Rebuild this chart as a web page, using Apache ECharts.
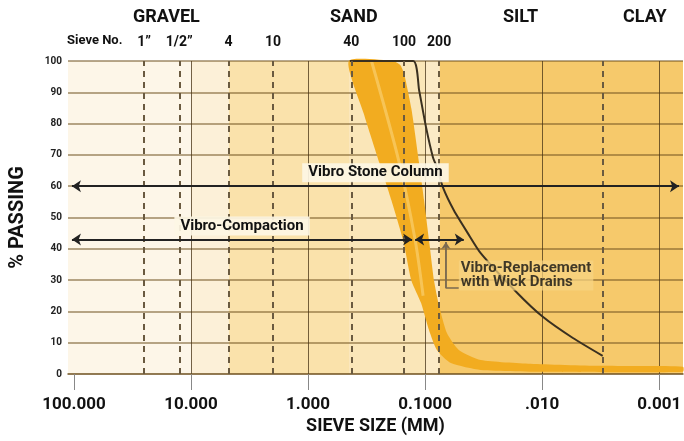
<!DOCTYPE html>
<html>
<head>
<meta charset="utf-8">
<script src="https://cdn.jsdelivr.net/npm/echarts@6.0.0/dist/echarts.min.js"></script>
<style>
html, body { margin: 0; padding: 0; background: #fff; }
#main { width: 684px; height: 441px; }
</style>
</head>
<body>
<div id="main"></div>
<script>
// sieve size in mm, drawn on a log axis (value = -log10(mm), so coarse is on the left)
const sizeMax = 112.4, sizeMin = 0.000626;
const sizeTicks = [100, 10, 1, 0.1, 0.01, 0.001];
const sizeTickLabels = ['100.000', '10.000', '1.000', '0.1000', '.010', '0.001'];

const sieveNames = ['1”', '1/2”', '4', '10', '40', '100', '200', ''];
const sieveSizes = [25.4, 12.7, 4.75, 2.0, 0.425, 0.15, 0.075, 0.003];

// background zones (mm edges)
const zoneEdges = [112.4, 10, 4.75, 0.44, 0.1, 0.075, 0.000626];
const zoneColors = ['#fdf6e8', '#fcf0d8', '#fae2ab', '#fae6b8', '#fbeac6', '#f6c96b'];

// black grading curve
const curveSize = [0.44, 0.1264, 0.1124, 0.0981, 0.0856, 0.0791, 0.0704, 0.0568, 0.0432, 0.0335, 0.0163, 0.00981, 0.00546, 0.00304];
const curvePass = [100, 100, 90.6, 78.8, 69.2, 66.0, 59.6, 52.3, 45.0, 38.6, 25.9, 18.2, 11.5, 5.8];

// orange band, coarse and fine limits
const bandCoarseSize = [0.449, 0.335, 0.245, 0.194, 0.154, 0.131, 0.108, 0.0925, 0.0791, 0.0602, 0.0335, 0.00855, 0.000626];
const bandCoarsePass = [100, 83.3, 67.3, 55.5, 42.7, 29.9, 22.6, 14.0, 7.6, 3.5, 1.3, 0.7, 0.7];
const bandFineSize = [0.187, 0.163, 0.151, 0.131, 0.1124, 0.102, 0.0925, 0.0839, 0.0761, 0.0651, 0.0515, 0.0335, 0.0126, 0.00322, 0.000626];
const bandFinePass = [100, 98.7, 95.9, 84.8, 67.3, 55.5, 42.7, 29.9, 22.0, 13.1, 7.7, 4.5, 3.3, 2.6, 2.3];
const stripeSize = [0.287, 0.166, 0.1216, 0.104];
const stripePass = [100, 67.4, 42.8, 25];

// method arrows
const arrowText = ['Vibro Stone Column', 'Vibro-Compaction', ''];
const arrowFrom = [104, 104, 0.1216];
const arrowTo = [0.000677, 0.129, 0.0467];
const arrowPass = [60, 43, 43];
const bracketSize = [0.0664, 0.0664, 0.0515];
const bracketPass = [42.2, 27.5, 27.5];
const noteSize = 0.0515, notePass = 31.5;
const noteText = 'Vibro-Replacement\nwith Wick Drains';

const toU = mm => -Math.log10(mm);
const pair = (s, p) => s.map((v, i) => [toU(v), p[i]]);
const FONT = 'Roboto';

const bandPoly = pair(bandCoarseSize, bandCoarsePass).concat(pair(bandFineSize, bandFinePass).reverse());

const myChart = echarts.init(document.getElementById('main'));
myChart.setOption({
  animation: false,
  backgroundColor: '#fff',
  textStyle: { fontFamily: FONT },
  grid: { left: 64, right: 0, top: 61, bottom: 67 },
  graphic: [
    { type: 'text', left: 133, top: 8, style: { text: 'GRAVEL', font: 'bold 18px Roboto', fill: '#111' } },
    { type: 'text', left: 330, top: 8, style: { text: 'SAND', font: 'bold 18px Roboto', fill: '#111' } },
    { type: 'text', left: 503, top: 8, style: { text: 'SILT', font: 'bold 18px Roboto', fill: '#111' } },
    { type: 'text', left: 623, top: 8, style: { text: 'CLAY', font: 'bold 18px Roboto', fill: '#111' } },
    { type: 'text', left: 67, top: 34, style: { text: 'Sieve No.', font: 'bold 13px Roboto', fill: '#111' } }
  ],
  xAxis: {
    type: 'value',
    min: toU(sizeMax),
    max: toU(sizeMin),
    minInterval: 1,
    maxInterval: 1,
    axisLine: { show: true, lineStyle: { color: 'rgba(110,80,30,0.5)', width: 2 } },
    axisTick: { show: true, length: 16, lineStyle: { color: '#888', width: 1 }, customValues: sizeTicks.map(toU) },
    axisLabel: {
      margin: 22,
      fontSize: 17,
      fontWeight: 'bold',
      color: '#111',
      customValues: sizeTicks.map(toU),
      formatter: v => {
        const i = sizeTicks.findIndex(t => Math.abs(toU(t) - v) < 1e-6);
        return i < 0 ? '' : sizeTickLabels[i];
      }
    },
    splitLine: { show: true, showMinLine: false, showMaxLine: true, lineStyle: { color: 'rgba(70,50,20,0.75)', width: 1 } },
    name: 'SIEVE SIZE (MM)',
    nameLocation: 'middle',
    nameGap: 40,
    nameTextStyle: { fontSize: 18, fontWeight: 'bold', color: '#111' }
  },
  yAxis: {
    type: 'value',
    min: 0,
    max: 100,
    interval: 10,
    axisLine: { show: false },
    axisTick: { show: false },
    axisLabel: { fontSize: 10, fontWeight: 'bold', color: '#222', margin: 6, padding: [0, 0, 6, 0] },
    splitLine: { lineStyle: { color: 'rgba(110,80,30,0.5)', width: 2 } },
    name: '% PASSING',
    nameLocation: 'middle',
    nameGap: 40,
    nameTextStyle: { fontSize: 20, fontWeight: 'bold', color: '#111' }
  },
  series: [
    {
      // zones and sieve lines
      type: 'line',
      z: -1,
      data: [],
      markArea: {
        z: -1,
        silent: true,
        data: zoneColors.map((c, i) => [
          { xAxis: toU(zoneEdges[i]), itemStyle: { color: c } },
          { xAxis: toU(zoneEdges[i + 1]) }
        ])
      },
      markLine: {
        silent: true,
        symbol: 'none',
        lineStyle: { color: '#6a5a40', width: 2, type: [6, 5] },
        label: { position: 'end', distance: 12, fontSize: 14, fontWeight: 'bold', color: '#111' },
        data: sieveSizes.map((s, i) => ({ xAxis: toU(s), label: { formatter: sieveNames[i] || '' } }))
      }
    },
    {
      type: 'custom',
      z: 2,
      data: [[0, 0]],
      renderItem: (params, api) => ({
        type: 'polygon',
        shape: { points: bandPoly.map(p => api.coord(p)), smooth: 0.2 },
        style: { fill: '#f2ac20' }
      })
    },
    {
      type: 'line',
      z: 3,
      data: pair(stripeSize, stripePass),
      smooth: 0.3,
      symbol: 'none',
      lineStyle: { color: 'rgba(248,202,100,0.8)', width: 3 }
    },
    {
      type: 'line',
      z: 4,
      clip: false,
      data: pair(curveSize, curvePass),
      smooth: 0.2,
      symbol: 'none',
      lineStyle: { color: '#3a3020', width: 2 }
    },
    {
      type: 'line',
      z: 6,
      data: pair(bracketSize, bracketPass),
      symbol: 'none',
      lineStyle: { color: '#7a6a50', width: 1.5 },
      markLine: {
        silent: true,
        symbol: ['arrow', 'arrow'],
        symbolSize: 9,
        lineStyle: { color: '#222', width: 2, type: 'solid' },
        label: {
          position: 'insideMiddleTop',
          distance: 4,
          fontSize: 15,
          fontWeight: 'bold',
          color: '#111',
          backgroundColor: 'rgba(253,246,228,0.92)',
          padding: [2, 6]
        },
        data: arrowText.map((t, i) => [
          { coord: [toU(arrowFrom[i]), arrowPass[i]], label: { show: t !== '', formatter: t } },
          { coord: [toU(arrowTo[i]), arrowPass[i]] }
        ]).concat([[
          { coord: [toU(bracketSize[1]), bracketPass[1]], symbol: 'none', lineStyle: { color: '#7a6a50', width: 1.5 }, label: { show: false } },
          { coord: [toU(bracketSize[0]), bracketPass[0]], symbol: 'arrow', symbolSize: 7 }
        ]])
      }
    },
    {
      type: 'scatter',
      z: 7,
      symbolSize: 0,
      data: [[toU(noteSize), notePass]],
      label: {
        show: true,
        position: 'right',
        distance: 0,
        formatter: noteText,
        fontSize: 15,
        fontWeight: 'bold',
        lineHeight: 14,
        color: '#111',
        backgroundColor: 'rgba(247,212,130,0.9)',
        padding: [1, 2]
      }
    }
  ]
});
</script>
</body>
</html>
